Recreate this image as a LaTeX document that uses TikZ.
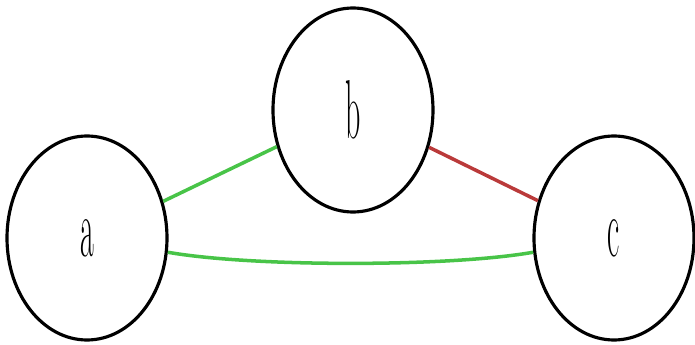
\documentclass[tikz,border=0pt]{standalone}
\usetikzlibrary{shapes.geometric}
\definecolor{edgegrn}{RGB}{72,196,72}
\definecolor{edgered}{RGB}{186,58,58}

\begin{document}
\begin{tikzpicture}[
  vertex/.style={ellipse, draw=black, line width=1.8pt, minimum width=3.2cm,
    minimum height=4.08cm, inner sep=0pt, font=\fontsize{17}{20}\selectfont},
  grnedge/.style={edgegrn, line width=2pt},
  rededge/.style={edgered, line width=2pt}]
\useasboundingbox (0,0) rectangle (13.9,-6.9);
%% the three vertices
\node[vertex] (a) at (1.74,-4.76) {\scalebox{1}[2.8]{a}};
\node[vertex] (b) at (7.06,-2.2) {\scalebox{1}[2.8]{b}};
\node[vertex] (c) at (12.28,-4.76) {\scalebox{1}[2.8]{c}};
%% edges
\draw[grnedge] (a) -- (b);
\draw[rededge] (b) -- (c);
\draw[grnedge] (a) to[bend right=10, looseness=0.6] (c);
\end{tikzpicture}
\end{document}
